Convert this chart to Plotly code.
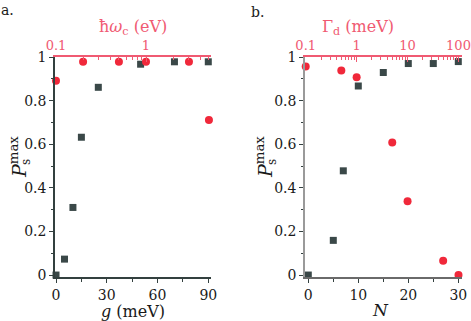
import plotly.graph_objects as go

# panel a: P_s^max versus coupling g (bottom axis) and cavity energy (top, log)
g_vals = [0, 5, 10, 15, 25, 50, 70, 90]
p_g = [0.0, 0.073, 0.31, 0.632, 0.861, 0.967, 0.978, 0.978]
hw_vals = [0.1, 0.2, 0.5, 1, 3, 5]
p_hw = [0.891, 0.978, 0.978, 0.978, 0.978, 0.711]

# panel b: P_s^max versus N (bottom) and dephasing Gamma_d (top, log)
n_vals = [0, 5, 7, 10, 15, 20, 25, 30]
p_n = [0.0, 0.159, 0.478, 0.867, 0.929, 0.97, 0.97, 0.979]
gam_vals = [0.1, 0.5, 1, 5, 10, 50, 100]
p_gam = [0.957, 0.938, 0.907, 0.608, 0.338, 0.065, 0.0]

W, H = 471, 321
red = "#f0283a"
pink = "#f05a72"
dark = "#33403f"
sq = "#3a4848"
grey = "#9a9a9a"
ink = "#1a1a1a"
serif = "DejaVu Serif"

dom_a = [55 / W, 211 / W]
dom_b = [305 / W, 461.7 / W]
dom_y = [1 - 277 / H, 1 - 57 / H]

fig = go.Figure()

sq_marker = dict(symbol="square", size=7, color=sq)
dot_marker = dict(symbol="circle", size=8, color=red)

fig.add_trace(go.Scatter(x=g_vals, y=p_g, mode="markers", marker=sq_marker,
                         xaxis="x", yaxis="y", cliponaxis=False))
fig.add_trace(go.Scatter(x=hw_vals, y=p_hw, mode="markers", marker=dot_marker,
                         xaxis="x2", yaxis="y", cliponaxis=False))
fig.add_trace(go.Scatter(x=n_vals, y=p_n, mode="markers", marker=sq_marker,
                         xaxis="x3", yaxis="y2", cliponaxis=False))
fig.add_trace(go.Scatter(x=gam_vals, y=p_gam, mode="markers", marker=dot_marker,
                         xaxis="x4", yaxis="y2", cliponaxis=False))

tickfont = dict(family=serif, size=14, color=ink)
redfont = dict(family=serif, size=13, color=pink)

def lin_x(dom, rng, dtick, anchor, linecolor):
    return dict(domain=dom, range=rng, anchor=anchor, showgrid=False, zeroline=False,
                automargin=False,
                showline=True, linecolor=linecolor, linewidth=1.5, ticks="outside",
                ticklen=4, tickcolor=dark, dtick=dtick, tick0=0, tickfont=tickfont,
                minor=dict(dtick=dtick / 2, tick0=0, ticks="outside", ticklen=3, tickcolor=dark))

def log_x(dom, rng, tickvals, minorvals, over):
    return dict(domain=dom, range=rng, type="log", overlaying=over, side="top",
                anchor="y" if over == "x" else "y2", automargin=False,
                showgrid=False, zeroline=False, showline=True, linecolor=pink,
                linewidth=1.5, ticks="inside", ticklen=5, tickcolor=pink,
                tickvals=tickvals, ticktext=[str(v) for v in tickvals], tickfont=redfont,
                minor=dict(tickvals=minorvals, ticks="inside", ticklen=3, tickcolor=pink))

def minors(decades):
    out = []
    for d in decades:
        out += [k * d for k in range(2, 10)]
    return out

def y_ax(anchor, linecolor):
    return dict(domain=dom_y, range=[-0.009, 1.0], anchor=anchor, showgrid=False,
                zeroline=False, automargin=False, showline=True, linecolor=linecolor,
                linewidth=1.5, ticks="outside", ticklen=4, tickcolor=dark, dtick=0.2,
                tick0=0, tickformat="~g", tickfont=tickfont,
                minor=dict(dtick=0.1, tick0=0, ticks="outside", ticklen=2, tickcolor=dark))

def y_right(over, anchor):
    return dict(domain=dom_y, range=[-0.009, 1.0], overlaying=over, side="right",
                anchor=anchor, showgrid=False, zeroline=False, automargin=False,
                showline=True, linecolor=dark, linewidth=1.5, ticks="outside",
                ticklen=4, tickcolor=dark, dtick=0.2, tick0=0, showticklabels=False,
                minor=dict(dtick=0.1, tick0=0, ticks="outside", ticklen=2, tickcolor=dark))

def label(text, x, y, size=16, color=ink, angle=0):
    return dict(text=text, x=x / W, y=1 - y / H, xref="paper", yref="paper",
                showarrow=False, xanchor="center", yanchor="middle", textangle=angle,
                font=dict(family=serif, size=size, color=color))

annotations = [
    label("a.", 7, 10, 14),
    label("b.", 257, 12, 14),
    label("<i>g</i> (meV)", 133, 311),
    label("<i>N</i>", 380, 310, 17),
    label("ħ<i>ω</i><sub>c</sub> (eV)", 133, 27, 16, pink),
    label("Γ<sub>d</sub> (meV)", 358, 27, 16, pink),
]
for x0 in (18, 264):
    annotations.append(label("<i>P</i><sup>max</sup>", x0, 157, 19, ink, -90))
    annotations.append(label("s", x0 + 8, 162, 12, ink, -90))

fig.update_layout(
    width=W, height=H,
    margin=dict(l=0, r=0, t=0, b=0, autoexpand=False),
    paper_bgcolor="white", plot_bgcolor="white",
    showlegend=False,
    xaxis=lin_x(dom_a, [-0.6, 91.6], 30, "y", dark),
    xaxis2=log_x(dom_a, [-1.011, 0.722], [0.1, 1], minors([0.1, 1]), "x"),
    xaxis3=lin_x(dom_b, [-0.66, 30.68], 10, "y2", "#6a6a6a"),
    xaxis4=log_x(dom_b, [-1.014, 2.063], [0.1, 1, 10, 100], minors([0.1, 1, 10]), "x3"),
    yaxis=y_ax("x", dark),
    yaxis2=y_ax("x3", grey),
    yaxis3=y_right("y", "x"),
    yaxis4=y_right("y2", "x3"),
    annotations=annotations,
)

# drop the default page margin so the figure sits at the window's corner
fig.write_html("out.html", config={"displayModeBar": False},
               post_script="document.body.style.margin='0';")
